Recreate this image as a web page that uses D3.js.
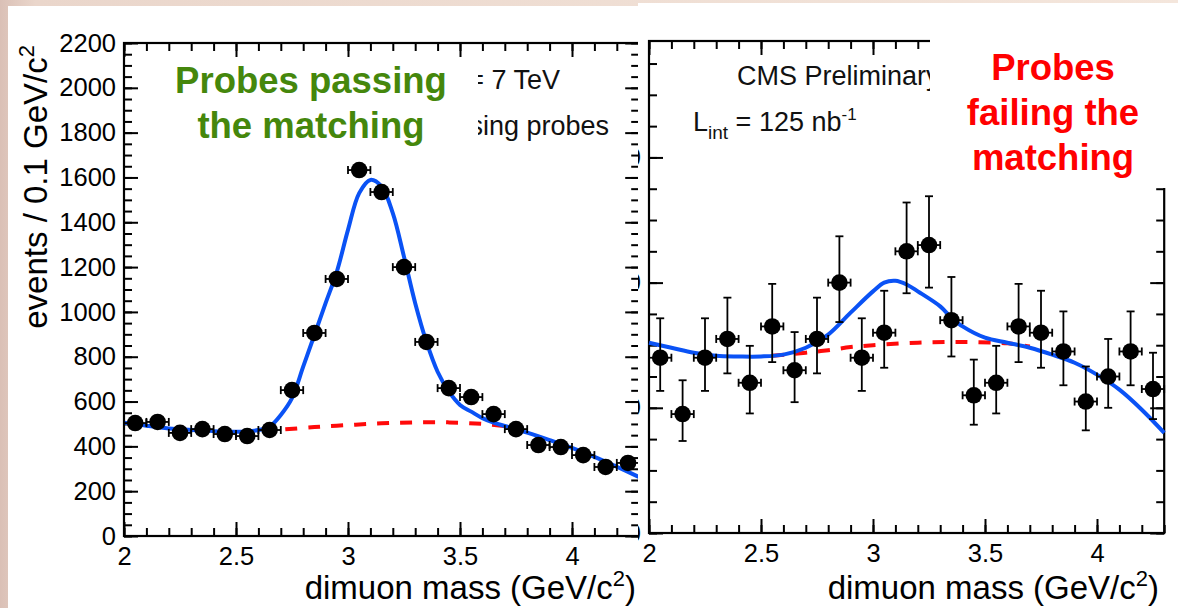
<!DOCTYPE html>
<html><head><meta charset="utf-8">
<script src="https://cdn.jsdelivr.net/npm/d3@7"></script>
<style>
html,body{margin:0;padding:0;background:#efdcd0;}
svg{display:block;}
</style></head><body>
<svg id="c" width="1178" height="608"></svg>
<script>
// ---------------- data ----------------
const binCenters = [2.05,2.15,2.25,2.35,2.45,2.55,2.65,2.75,2.85,2.95,3.05,3.15,3.25,3.35,3.45,3.55,3.65,3.75,3.85,3.95,4.05,4.15,4.25];
const passCounts = [504,509,460,477,455,446,473,651,906,1147,1633,1535,1200,866,660,620,544,477,406,397,361,308,326];
const failCounts = [28,19,28,31,24,33,26,31,40,28,32,45,46,34,22,24,33,32,29,21,25,29,23];
const failErrUp   = [6.3,5.4,6.3,6.6,5.9,6.8,6.1,6.6,7.4,6.3,6.7,7.8,7.8,6.9,5.7,5.9,6.8,6.7,6.4,5.6,6.0,6.4,5.8];
const failErrDown = [5.3,4.3,5.3,5.5,4.9,5.7,5.1,5.5,6.3,5.3,5.6,6.7,6.8,5.8,4.7,4.9,5.7,5.6,5.4,4.6,5.0,5.4,4.8];

const passFitX = [2.0,2.1,2.2,2.3,2.4,2.5,2.6,2.65,2.7,2.75,2.8,2.85,2.9,2.95,3.0,3.05,3.1,3.15,3.2,3.25,3.3,3.35,3.4,3.45,3.5,3.55,3.6,3.65,3.7,3.8,3.9,4.0,4.1,4.2,4.3];
const passFitY = [506,492,480,473,468,465,473,488,540,615,756,897,1039,1179,1366,1530,1589,1559,1441,1246,1039,867,733,645,585,555,526,506,491,461,428,393,353,309,263];
const passBkgX = [2.72,2.85,3.0,3.15,3.3,3.45,3.6,3.7];
const passBkgY = [476,486,495,503,507,507,500,491];

const failFitX = [2.0,2.1,2.2,2.3,2.4,2.5,2.6,2.7,2.8,2.9,3.0,3.05,3.1,3.15,3.2,3.3,3.35,3.4,3.5,3.6,3.7,3.8,3.9,4.0,4.1,4.2,4.3];
const failFitY = [30.4,29.6,28.8,28.3,28.2,28.2,28.5,29.6,31.7,35.2,38.6,40.0,40.3,39.7,38.6,36.2,34.4,33.0,31.2,30.4,29.6,28.5,27.2,25.3,22.9,19.7,16.0];
const failBkgX = [2.55,2.7,2.8,2.9,3.0,3.2,3.4,3.6,3.7];
const failBkgY = [28.3,28.8,29.2,29.7,30.0,30.4,30.5,30.3,29.8];

const xTickValues = [2,2.5,3,3.5,4];
const xTickLabels = ["2","2.5","3","3.5","4"];
const passYTicks = [0,200,400,600,800,1000,1200,1400,1600,1800,2000,2200];
const failYTicks = [0,20,40,60];

// ---------------- drawing ----------------
const FONT = '"Liberation Sans", Arial, Helvetica, sans-serif';
const svg = d3.select('#c');
const defs = svg.append('defs');
const grad = defs.append('linearGradient').attr('id','bg').attr('x1','0').attr('x2','1').attr('y1','0').attr('y2','0');
grad.append('stop').attr('offset','0').attr('stop-color','#dac0b6');
grad.append('stop').attr('offset','0.03').attr('stop-color','#ead6cb');
grad.append('stop').attr('offset','1').attr('stop-color','#f4e6dc');
svg.append('rect').attr('width',1178).attr('height',608).attr('fill','url(#bg)');

defs.append('clipPath').attr('id','clipRight').append('rect').attr('x',638).attr('y',0).attr('width',540).attr('height',608);
defs.append('clipPath').attr('id','clipLeftInfo').append('rect').attr('x',478).attr('y',0).attr('width',200).attr('height',200);

function drawAxes(g, x, y, yTicks, yMinorCount, yLabelX) {
  const [y0, y1] = y.range();
  const [x0, x1] = x.range();
  const style = sel => {
    sel.select('.domain').remove();
    sel.selectAll('line').attr('stroke','#000').attr('stroke-width',2);
    sel.selectAll('text').attr('fill','#000').style('font-family',FONT).style('font-size','25.5px');
  };
  g.append('g').attr('transform',`translate(0,${y0})`)
    .call(d3.axisBottom(x).tickValues(xTickValues).tickFormat((d,i)=>xTickLabels[i]).tickSizeInner(-14).tickSizeOuter(0).tickPadding(11))
    .call(style);
  g.append('g').attr('transform',`translate(0,${y0})`)
    .call(d3.axisBottom(x).tickValues(x.ticks(23)).tickFormat('').tickSizeInner(-8).tickSizeOuter(0)).call(style);
  g.append('g').attr('transform',`translate(0,${y1})`)
    .call(d3.axisTop(x).tickValues(xTickValues).tickFormat('').tickSizeInner(-14).tickSizeOuter(0)).call(style);
  g.append('g').attr('transform',`translate(0,${y1})`)
    .call(d3.axisTop(x).tickValues(x.ticks(23)).tickFormat('').tickSizeInner(-8).tickSizeOuter(0)).call(style);
  g.append('g').attr('transform',`translate(${x0},0)`)
    .call(d3.axisLeft(y).tickValues(yTicks).tickFormat(d3.format('d')).tickSizeInner(-14).tickSizeOuter(0).tickPadding(yLabelX))
    .call(style);
  g.append('g').attr('transform',`translate(${x0},0)`)
    .call(d3.axisLeft(y).tickValues(y.ticks(yMinorCount)).tickFormat('').tickSizeInner(-8).tickSizeOuter(0)).call(style);
  g.append('g').attr('transform',`translate(${x1},0)`)
    .call(d3.axisRight(y).tickValues(yTicks).tickFormat('').tickSizeInner(-14).tickSizeOuter(0)).call(style);
  g.append('g').attr('transform',`translate(${x1},0)`)
    .call(d3.axisRight(y).tickValues(y.ticks(yMinorCount)).tickFormat('').tickSizeInner(-8).tickSizeOuter(0)).call(style);
  g.append('rect').attr('x',x0).attr('y',y1).attr('width',x1-x0).attr('height',y0-y1)
    .attr('fill','none').attr('stroke','#000').attr('stroke-width',2.2);
}

function drawCurves(g, x, y, fx, fy, bx, by) {
  const line = d3.line().x(d=>x(d[0])).y(d=>y(d[1])).curve(d3.curveCatmullRom);
  g.append('path').datum(bx.map((v,i)=>[v,by[i]])).attr('d',line)
    .attr('fill','none').attr('stroke','#ff0a0a').attr('stroke-width',4).attr('stroke-dasharray','12,11');
  g.append('path').datum(fx.map((v,i)=>[v,fy[i]])).attr('d',line)
    .attr('fill','none').attr('stroke','#0a52f5').attr('stroke-width',4);
}

function drawPoints(g, x, y, counts, up, down) {
  const pts = g.append('g');
  binCenters.forEach((c,i) => {
    const v = counts[i];
    const cx = x(c), cy = y(v);
    const xl = x(c-0.05), xr = x(c+0.05);
    const e = pts.append('g').attr('stroke','#000').attr('stroke-width',1.8);
    e.append('line').attr('x1',xl).attr('x2',xr).attr('y1',cy).attr('y2',cy);
    e.append('line').attr('x1',xl).attr('x2',xl).attr('y1',cy-4).attr('y2',cy+4);
    e.append('line').attr('x1',xr).attr('x2',xr).attr('y1',cy-4).attr('y2',cy+4);
    if (up) {
      const yt = y(v+up[i]), yb = y(v-down[i]);
      e.append('line').attr('x1',cx).attr('x2',cx).attr('y1',yt).attr('y2',yb);
      e.append('line').attr('x1',cx-4).attr('x2',cx+4).attr('y1',yt).attr('y2',yt);
      e.append('line').attr('x1',cx-4).attr('x2',cx+4).attr('y1',yb).attr('y2',yb);
    }
    pts.append('circle').attr('cx',cx).attr('cy',cy).attr('r',8.3).attr('fill','#000');
  });
}

function xTitle(g, xEnd) {
  const t = g.append('text').attr('x',xEnd).attr('y',599).attr('text-anchor','end')
    .style('font-family',FONT).style('font-size','33px').attr('fill','#000');
  t.append('tspan').text('dimuon mass (GeV/c');
  t.append('tspan').attr('dy',-13).style('font-size','22px').text('2');
  t.append('tspan').attr('dy',13).text(')');
}

// ===== Left panel: probes passing =====
const L = svg.append('g');
L.append('rect').attr('x',8).attr('y',6).attr('width',640).attr('height',602).attr('fill','#fff');
const xL = d3.scaleLinear().domain([2,4.3]).range([124,639.2]);
const yL = d3.scaleLinear().domain([0,2200]).range([536,43]);
drawAxes(L, xL, yL, passYTicks, 44, 8);
drawCurves(L, xL, yL, passFitX, passFitY, passBkgX, passBkgY);
drawPoints(L, xL, yL, passCounts, null, null);
xTitle(L, 636);
const yt = L.append('text').attr('transform','translate(47,45) rotate(-90)').attr('text-anchor','end')
  .style('font-family',FONT).style('font-size','33px').attr('fill','#000');
yt.append('tspan').text('events / 0.1 GeV/c');
yt.append('tspan').attr('dy',-13).style('font-size','22px').text('2');
const li = L.append('g').attr('clip-path','url(#clipLeftInfo)')
  .style('font-family',FONT).style('font-size','27px').attr('fill','#111');
li.append('text').attr('x',560).attr('y',89).attr('text-anchor','end').text('= 7 TeV');
li.append('text').attr('x',609).attr('y',135).attr('text-anchor','end').text('sing probes');
const green = L.append('text').attr('text-anchor','middle').style('font-family',FONT)
  .style('font-size','36.5px').style('font-weight','bold').attr('fill','#45870c');
green.append('tspan').attr('x',311).attr('y',93).text('Probes passing');
green.append('tspan').attr('x',311).attr('y',138).text('the matching');

// ===== Right panel: probes failing =====
const R = svg.append('g').attr('clip-path','url(#clipRight)');
R.append('rect').attr('x',638).attr('y',3).attr('width',540).attr('height',605).attr('fill','#fff');
const xR = d3.scaleLinear().domain([2,4.3]).range([649,1164.2]);
const yR = d3.scaleLinear().domain([0,78.6]).range([533,41]);
drawAxes(R, xR, yR, failYTicks, 16, 8);
drawCurves(R, xR, yR, failFitX, failFitY, failBkgX, failBkgY);
drawPoints(R, xR, yR, failCounts, failErrUp, failErrDown);
xTitle(R, 1159);
const ri = R.append('g').style('font-family',FONT).style('font-size','27px').attr('fill','#111');
ri.append('text').attr('x',737).attr('y',85).text('CMS Preliminary');
const lt = ri.append('text').attr('x',693).attr('y',131);
lt.append('tspan').text('L');
lt.append('tspan').attr('dy',8).style('font-size','19px').text('int');
lt.append('tspan').attr('dy',-8).text(' = 125 nb');
lt.append('tspan').attr('dy',-11).style('font-size','17px').text('-1');
// white box behind the red caption
R.append('rect').attr('x',930).attr('y',3).attr('width',248).attr('height',185).attr('fill','#fff');
const red = R.append('text').attr('text-anchor','middle').style('font-family',FONT)
  .style('font-size','36.5px').style('font-weight','bold').attr('fill','#ff0000');
red.append('tspan').attr('x',1053).attr('y',80).text('Probes');
red.append('tspan').attr('x',1053).attr('y',125).text('failing the');
red.append('tspan').attr('x',1053).attr('y',170).text('matching');
</script>
</body></html>
